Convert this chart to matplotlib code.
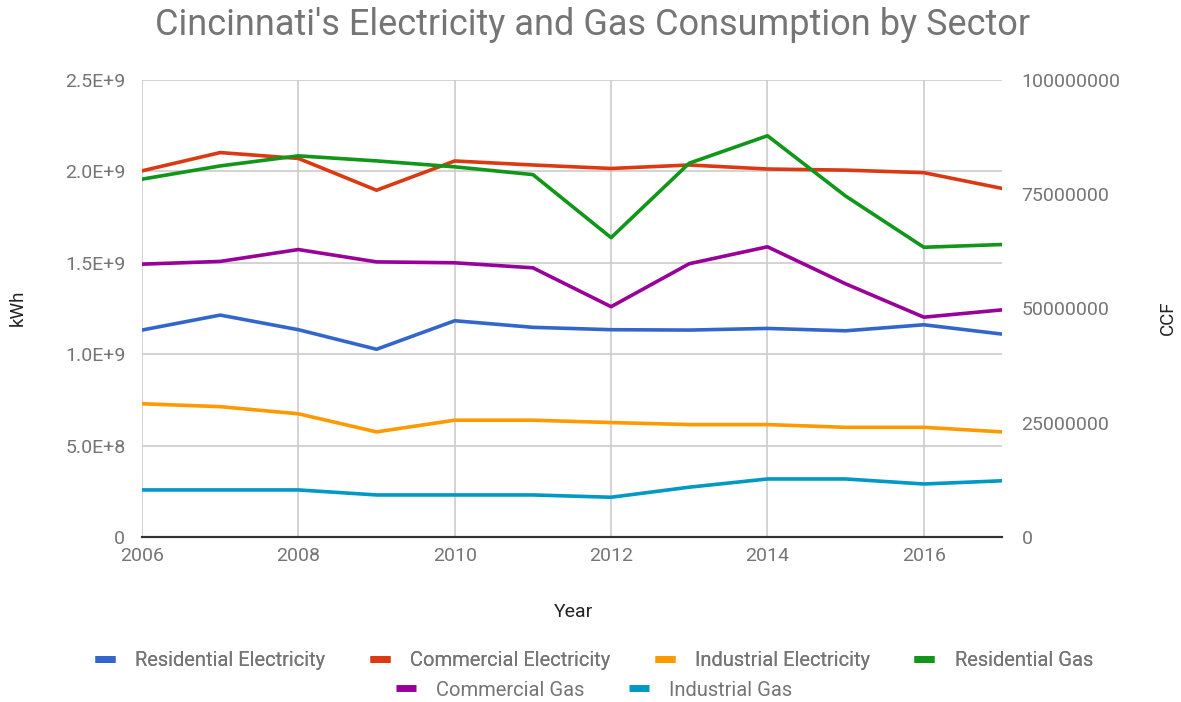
import matplotlib
matplotlib.use("Agg")
import matplotlib.pyplot as plt
from matplotlib.lines import Line2D

plt.rcParams["font.family"] = ["Roboto", "DejaVu Sans"]

# ---- DATA ----
years = [2006, 2007, 2008, 2009, 2010, 2011, 2012, 2013, 2014, 2015, 2016, 2017]

# electricity, kWh (left axis)
res_elec = [1.132e9, 1.214e9, 1.134e9, 1.027e9, 1.183e9, 1.147e9, 1.134e9, 1.132e9, 1.141e9, 1.128e9, 1.161e9, 1.110e9]
com_elec = [2.003e9, 2.103e9, 2.071e9, 1.897e9, 2.057e9, 2.035e9, 2.016e9, 2.035e9, 2.013e9, 2.007e9, 1.993e9, 1.907e9]
ind_elec = [0.729e9, 0.713e9, 0.674e9, 0.575e9, 0.639e9, 0.639e9, 0.626e9, 0.615e9, 0.615e9, 0.600e9, 0.600e9, 0.575e9]

# gas, CCF (right axis)
res_gas = [78.3e6, 81.2e6, 83.4e6, 82.3e6, 81.0e6, 79.3e6, 65.5e6, 81.8e6, 87.8e6, 74.6e6, 63.4e6, 64.0e6]
com_gas = [59.7e6, 60.3e6, 62.9e6, 60.2e6, 60.0e6, 58.9e6, 50.4e6, 59.8e6, 63.5e6, 55.4e6, 48.1e6, 49.7e6]
ind_gas = [10.3e6, 10.3e6, 10.3e6, 9.2e6, 9.2e6, 9.2e6, 8.7e6, 10.9e6, 12.7e6, 12.7e6, 11.6e6, 12.3e6]

left_ticks = [0, 0.5e9, 1.0e9, 1.5e9, 2.0e9, 2.5e9]
left_labels = ["0", "5.0E+8", "1.0E+9", "1.5E+9", "2.0E+9", "2.5E+9"]
right_ticks = [0, 25e6, 50e6, 75e6, 100e6]
right_labels = ["0", "25000000", "50000000", "75000000", "100000000"]
x_ticks = [2006, 2008, 2010, 2012, 2014, 2016]

colors = {
    "Residential Electricity": "#3366cc",
    "Commercial Electricity": "#dc3912",
    "Industrial Electricity": "#ff9900",
    "Residential Gas": "#109618",
    "Commercial Gas": "#990099",
    "Industrial Gas": "#0099c6",
}

text_grey = "#757575"
label_dark = "#222222"

W, H = 1181, 702

# ---- PLOT ----
fig = plt.figure(figsize=(W / 100, H / 100), dpi=100)
ax = fig.add_axes([142 / W, 1 - 537 / H, 860 / W, 457 / H])
ax2 = ax.twinx()

lw = 2.6
ax.plot(years, res_elec, color=colors["Residential Electricity"], lw=lw, zorder=3)
ax.plot(years, com_elec, color=colors["Commercial Electricity"], lw=lw, zorder=3)
ax.plot(years, ind_elec, color=colors["Industrial Electricity"], lw=lw, zorder=3)
ax2.plot(years, res_gas, color=colors["Residential Gas"], lw=lw)
ax2.plot(years, com_gas, color=colors["Commercial Gas"], lw=lw)
ax2.plot(years, ind_gas, color=colors["Industrial Gas"], lw=lw)

ax.set_xlim(2006, 2017)
ax.set_ylim(0, 2.5e9)
ax2.set_ylim(0, 100e6)

ax.set_yticks(left_ticks, left_labels)
ax2.set_yticks(right_ticks, right_labels)
ax.set_xticks(x_ticks)

ax.grid(True, color="#cccccc", lw=1.2)
ax.set_axisbelow(True)

for a in (ax, ax2):
    for s in ("top", "left", "right"):
        a.spines[s].set_visible(False)
    a.spines["bottom"].set_color("#333333")
    a.spines["bottom"].set_linewidth(1.5)
    a.tick_params(length=0, labelsize=14, labelcolor=text_grey)

ax.tick_params(axis="y", pad=12)
ax2.tick_params(axis="y", pad=14)
ax.tick_params(axis="x", pad=7)

# axis titles placed in figure pixels
fig.text(18 / W, 1 - 308 / H, "kWh", rotation=90, ha="center", va="center",
         fontsize=13.5, color=label_dark)
fig.text(1168 / W, 1 - 318 / H, "CCF", rotation=90, ha="center", va="center",
         fontsize=13.5, color=label_dark)
fig.text(574 / W, 1 - 612 / H, "Year", ha="center", va="center",
         fontsize=14, color=label_dark)

fig.text(593 / W, 1 - 25 / H, "Cincinnati's Electricity and Gas Consumption by Sector",
         ha="center", va="center", fontsize=26, color=text_grey)

names = list(colors.keys())
handles = [Line2D([0], [0], color=colors[n], lw=5, solid_capstyle="butt") for n in names]

leg_kw = dict(frameon=False, fontsize=14.5, handlelength=1.0, handletextpad=1.0,
              columnspacing=2.2, labelcolor=text_grey, borderpad=0)
leg1 = fig.legend(handles[:4], names[:4], loc="center", ncol=4,
                  bbox_to_anchor=(594 / W, 1 - 661 / H), **leg_kw)
fig.add_artist(leg1)
fig.legend(handles[4:], names[4:], loc="center", ncol=2,
           bbox_to_anchor=(594 / W, 1 - 690 / H), **leg_kw)

plt.savefig("out.png", dpi=100)
